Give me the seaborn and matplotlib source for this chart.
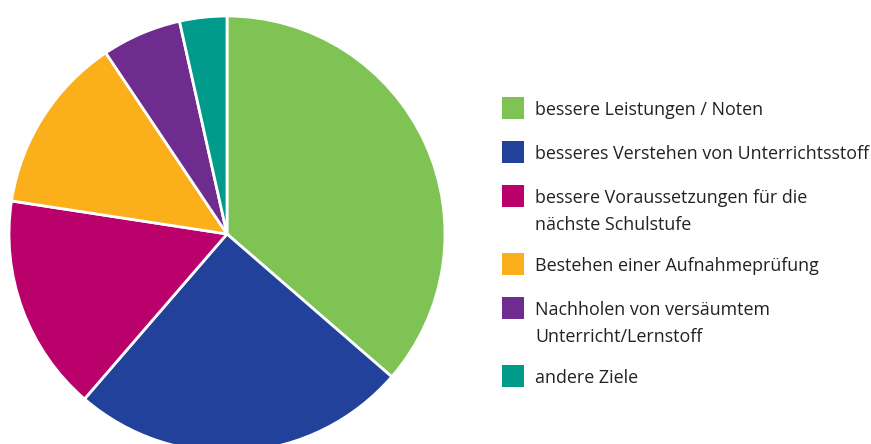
import matplotlib.pyplot as plt
import matplotlib.patches as mpatches
import seaborn as sns

labels = [
    "bessere Leistungen / Noten",
    "besseres Verstehen von Unterrichtsstoff",
    "bessere Voraussetzungen für die\nnächste Schulstufe",
    "Bestehen einer Aufnahmeprüfung",
    "Nachholen von versäumtem\nUnterricht/Lernstoff",
    "andere Ziele",
]
shares = [36.4, 25.0, 16.1, 13.2, 5.9, 3.5]
colors = ["#7FC354", "#22419A", "#BA006A", "#FBAF1A", "#6E2C8E", "#009B8A"]

sns.set_theme(style="white")
plt.rcParams['font.family'] = ['Open Sans', 'DejaVu Sans']

W, H = 871, 444
fig = plt.figure(figsize=(W / 100, H / 100), dpi=100)

# pie: centre (227, 234) px, radius 218 px
cx, cy, r = 227, 234, 218
ax = fig.add_axes([(cx - r) / W, (H - cy - r) / H, 2 * r / W, 2 * r / H])
ax.pie(shares, colors=colors, startangle=90, counterclock=False, radius=1,
       wedgeprops=dict(edgecolor="white", linewidth=2))
ax.set_xlim(-1, 1)
ax.set_ylim(-1, 1)
ax.set_aspect("equal")
ax.axis("off")

# legend drawn by hand
y = 108
for lab, col in zip(labels, colors):
    fig.patches.append(mpatches.Rectangle((502 / W, (H - y - 11) / H), 22 / W, 22 / H,
                                          transform=fig.transFigure, facecolor=col,
                                          edgecolor="none"))
    fig.text(535 / W, (H - y + 7) / H, lab, fontsize=12.9, color="#222222",
             va="top", linespacing=1.62,
             transform=fig.transFigure)
    nlines = lab.count("\n") + 1
    y += 44 + 24 * (nlines - 1)

fig.savefig("out.png", dpi=100)
